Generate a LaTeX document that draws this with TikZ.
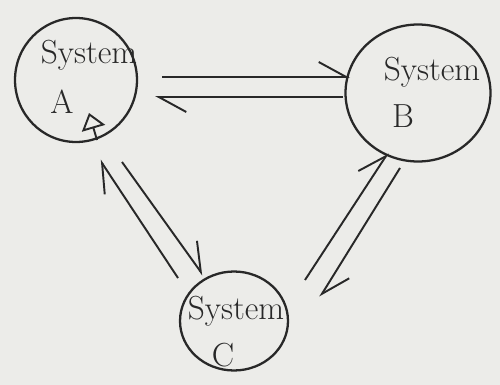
\documentclass[tikz,border=0pt]{standalone}
\usetikzlibrary{arrows.meta,shapes.geometric,calc}
\definecolor{paper}{RGB}{236,236,233}
\definecolor{pencil}{RGB}{40,40,40}
\begin{document}
\begin{tikzpicture}[x = 0.02cm, y = -0.02cm,
        sys/.style = {draw = pencil, ellipse, line width = 1.3pt, inner sep = 0pt},
        txt/.style = {inner sep = 0pt, font = \fontsize{19}{23}\selectfont, text = pencil},
        harp/.style = {draw = pencil, line width = 1.1pt,
            -{Straight Barb[harpoon, length = 0.55cm, width = 0.6cm]}}]
    \fill [paper] (0, 0) rectangle (500, 385);
    \node [sys, minimum width = 2.44cm, minimum height = 2.48cm] (sysA) at (76, 80) {};
    \node [sys, minimum width = 2.9cm, minimum height = 2.74cm] (sysB) at (418, 93) {};
    \node [sys, minimum width = 2.16cm, minimum height = 1.98cm] (sysC) at (234, 321) {};
    \node [txt] (nameA) at ($(sysA) + (13, -25)$) {System};
    \node [txt] (letA) at ($(sysA) + (-14, 22)$) {A};
    \node [txt] (nameB) at ($(sysB) + (14, -21)$) {System};
    \node [txt] (letB) at ($(sysB) + (-15, 23)$) {B};
    \node [txt] (nameC) at ($(sysC) + (2, -10)$) {System};
    \node [txt] (letC) at ($(sysC) + (-11, 34)$) {C};
    \draw [harp] ($(sysA) + (86, -3)$) -- ($(sysB) + (-68, -16)$);
    \draw [harp] ($(sysB) + (-75, 4)$) -- ($(sysA) + (79, 17)$);
    \draw [harp] ($(sysC) + (-56, -43)$) -- ($(sysA) + (24, 80)$);
    \draw [harp] ($(sysA) + (46, 82)$) -- ($(sysC) + (-31, -46)$);
    \draw [harp] ($(sysC) + (71, -41)$) -- ($(sysB) + (-30, 60)$);
    \draw [harp] ($(sysB) + (-18, 75)$) -- ($(sysC) + (86, -24)$);
    \coordinate (tailA) at ($(sysA) + (21, 60)$);
    \coordinate (tipA) at ($(sysA) + (13, 33)$);
    \draw [draw = pencil, line width = 1.1pt, -{Triangle[open, length = 0.32cm, width = 0.48cm]}] (tailA) -- (tipA);
\end{tikzpicture}
\end{document}
